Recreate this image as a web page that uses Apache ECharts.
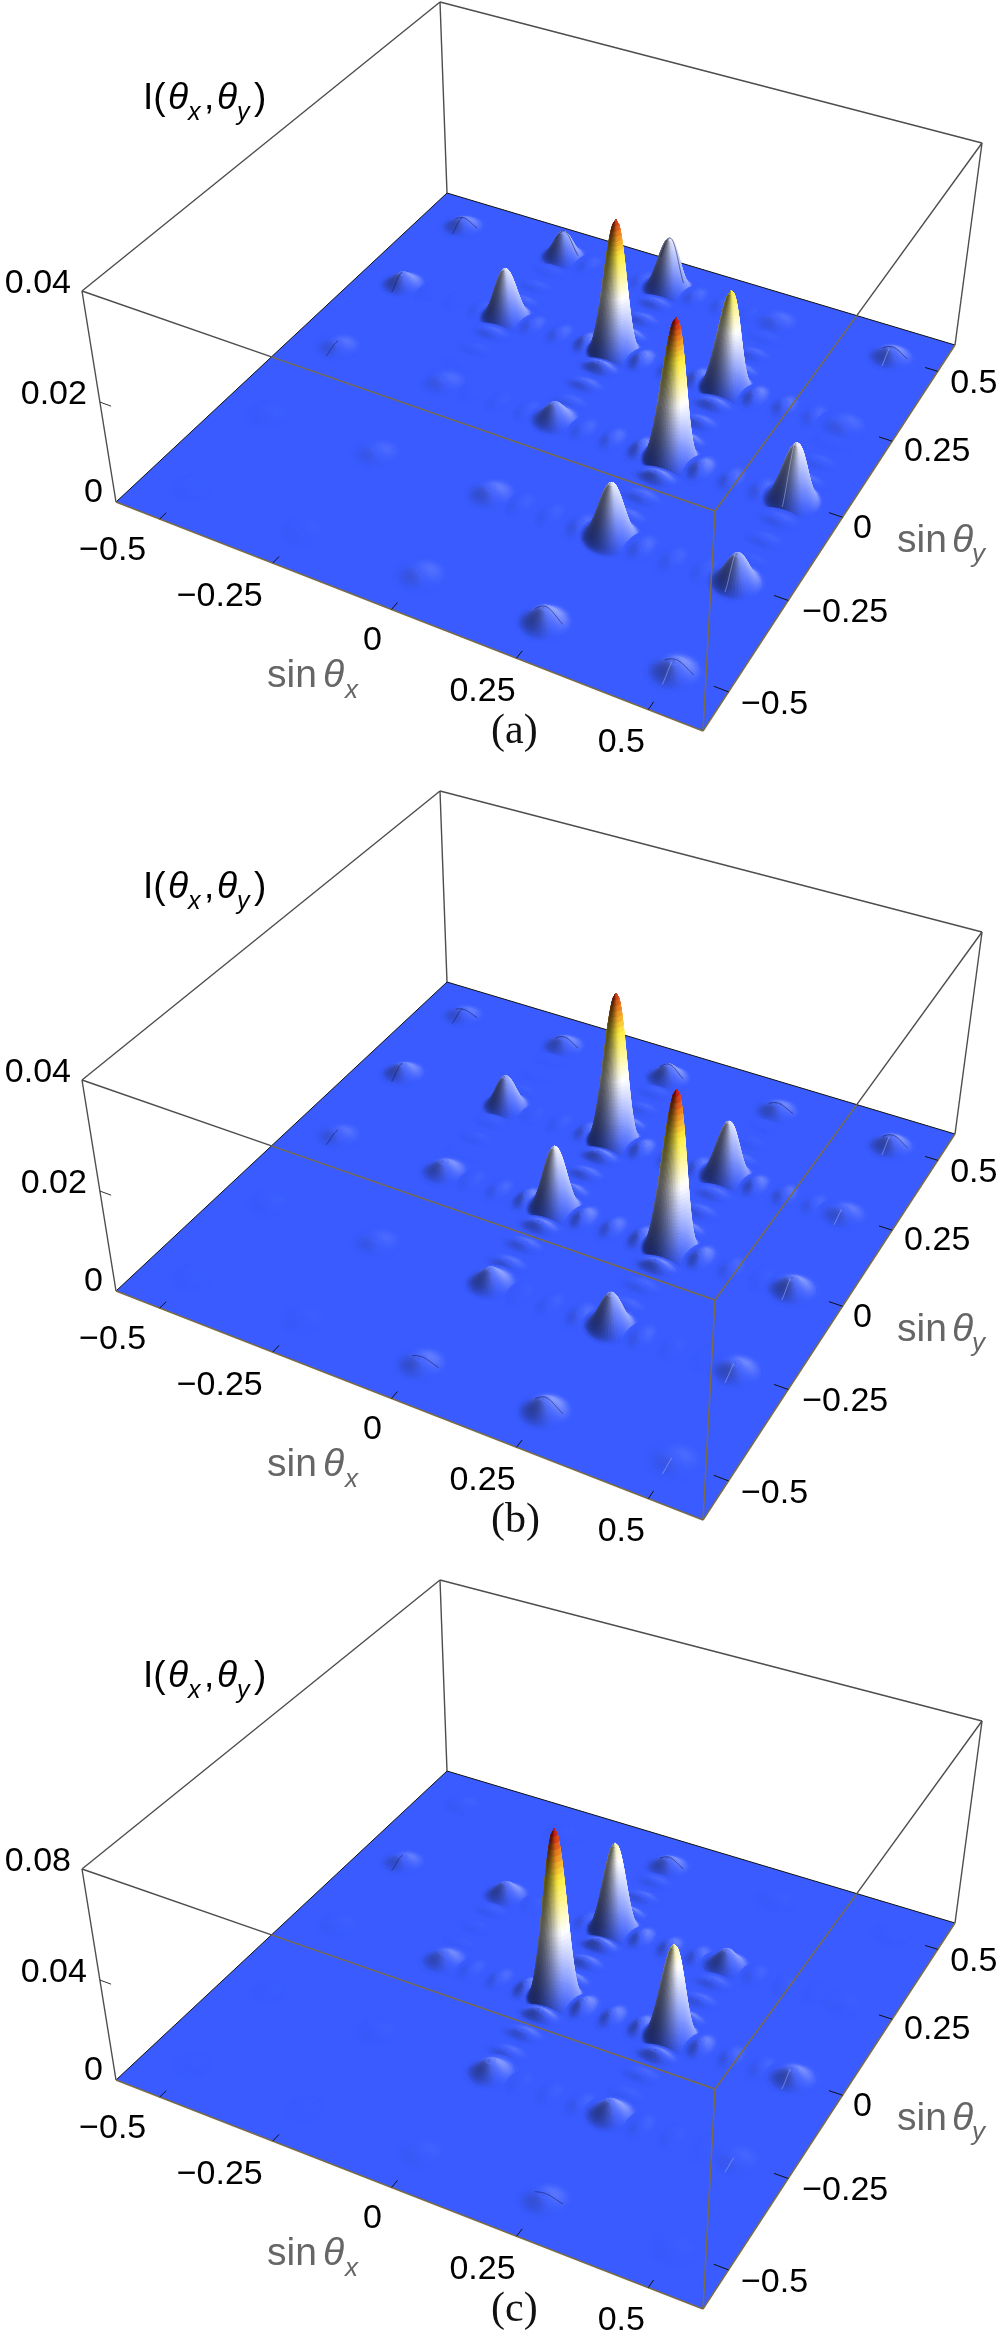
<!DOCTYPE html>
<html>
<head>
<meta charset="utf-8">
<title>I(theta_x, theta_y)</title>
<style>
html, body { margin: 0; background: #fff; }
#main { width: 1000px; height: 2337px; }
</style>
<script src="https://cdn.jsdelivr.net/npm/echarts@6/dist/echarts.min.js"></script>
</head>
<body>
<div id="main"></div>
<script>
// axis values
var axisRange = [-0.6, 0.6];
var sinTicks = [-0.5, -0.25, 0, 0.25, 0.5];
var sinTickLabels = ['−0.5', '−0.25', '0', '0.25', '0.5'];
var zTicksA = [0, 0.02, 0.04];
var zTicksB = [0, 0.02, 0.04];
var zTicksC = [0, 0.04, 0.08];
var zLabelsA = ['0', '0.02', '0.04'];
var zLabelsB = ['0', '0.02', '0.04'];
var zLabelsC = ['0', '0.04', '0.08'];
var zMaxA = 0.04, zMaxB = 0.04, zMaxC = 0.08;
var captions = ['(a)', '(b)', '(c)'];

// peak intensity, rows sinThetaY 0.5 .. -0.5, columns sinThetaX -0.5 .. 0.5
var gridY = [0.5, 0.25, 0, -0.25, -0.5];
var gridX = [-0.5, -0.25, 0, 0.25, 0.5];
var peaksA = [
    [0.0018, 0.0057, 0.0111, 0.0008, 0.0020],
    [0.0024, 0.0105, 0.0270, 0.0200, 0.0007],
    [0.0009, 0.0007, 0.0036, 0.0280, 0.0117],
    [0.0002, 0.0006, 0.0012, 0.0110, 0.0058],
    [0.0001, 0.0002, 0.0008, 0.0029, 0.0021]
];
var peaksB = [
    [0.0012, 0.0019, 0.0029, 0.0016, 0.0022],
    [0.0020, 0.0066, 0.0300, 0.0117, 0.0012],
    [0.0009, 0.0022, 0.0130, 0.0312, 0.0024],
    [0.0002, 0.0006, 0.0030, 0.0068, 0.0016],
    [0.0001, 0.0002, 0.0012, 0.0025, 0.0006]
];
var peaksC = [
    [0.0006, 0.0004, 0.0040, 0.0004, 0.0002],
    [0.0025, 0.0055, 0.0363, 0.0070, 0.0004],
    [0.0005, 0.0035, 0.0667, 0.0375, 0.0040],
    [0.0001, 0.0004, 0.0050, 0.0060, 0.0009],
    [0.0001, 0.0001, 0.0006, 0.0020, 0.0004]
];

// side lobes between two grid peaks: [fixed coordinate, start of the 0.25 gap, three heights]
var lobesXA = [
    [0.25, -0.5, 0.0001, 0.0001, 0.0003], [0.25, -0.25, 0.0006, 0.0006, 0.0014], [0.25, 0, 0.0014, 0.0008, 0.0012], [0.25, 0.25, 0.0012, 0.0008, 0.0005],
    [0, -0.25, 0.0001, 0.0002, 0.0003], [0, 0, 0.0005, 0.0007, 0.0014], [0, 0.25, 0.0014, 0.0007, 0.0006],
    [0.5, -0.25, 0.0004, 0.0003, 0.0005], [0.5, 0, 0.0006, 0.0005, 0.0002],
    [-0.25, 0, 0.0003, 0.0003, 0.0006], [-0.25, 0.25, 0.0006, 0.0004, 0.0003]
];
var lobesYA = [
    [0, 0, 0.0004, 0.0007, 0.0014], [0, 0.25, 0.0014, 0.0007, 0.0007],
    [0.25, 0, 0.0014, 0.0008, 0.0010], [0.25, 0.25, 0.0010, 0.0005, 0.0002], [0.25, -0.25, 0.0006, 0.0006, 0.0014],
    [-0.25, 0.25, 0.0005, 0.0003, 0.0002], [-0.25, 0, 0.0001, 0.0002, 0.0005],
    [0.5, 0, 0.0005, 0.0003, 0.0001], [0.5, -0.25, 0.0002, 0.0003, 0.0004]
];
var lobesXB = [
    [0.25, -0.25, 0.0002, 0.0003, 0.0010], [0.25, 0, 0.0013, 0.0007, 0.0010], [0.25, 0.25, 0.0012, 0.0008, 0.0005],
    [0, -0.25, 0.0003, 0.0005, 0.0014], [0, 0, 0.0014, 0.0010, 0.0014], [0, 0.25, 0.0014, 0.0005, 0.0002],
    [-0.25, 0, 0.0002, 0.0003, 0.0006], [-0.25, 0.25, 0.0005, 0.0002, 0.0001]
];
var lobesYB = [
    [0, 0, 0.0012, 0.0008, 0.0013], [0, 0.25, 0.0013, 0.0004, 0.0003], [0, -0.25, 0.0007, 0.0007, 0.0012],
    [0.25, 0, 0.0014, 0.0006, 0.0006], [0.25, -0.25, 0.0004, 0.0004, 0.0014], [0.25, 0.25, 0.0005, 0.0002, 0.0001],
    [-0.25, 0.25, 0.0002, 0.0001, 0.0001], [-0.25, 0, 0.0001, 0.0002, 0.0002]
];
var lobesXC = [
    [0.25, -0.25, 0.0004, 0.0004, 0.0012], [0.25, 0, 0.0026, 0.0022, 0.0018], [0.25, 0.25, 0.0008, 0.0004, 0.0002],
    [0, -0.25, 0.0008, 0.0012, 0.0030], [0, 0, 0.0034, 0.0026, 0.0030], [0, 0.25, 0.0026, 0.0012, 0.0008],
    [-0.25, 0, 0.0004, 0.0005, 0.0008], [-0.25, 0.25, 0.0007, 0.0004, 0.0002]
];
var lobesYC = [
    [0, 0, 0.0030, 0.0020, 0.0030], [0, 0.25, 0.0026, 0.0012, 0.0008], [0, -0.25, 0.0012, 0.0016, 0.0030],
    [0.25, 0, 0.0026, 0.0012, 0.0012], [0.25, -0.25, 0.0005, 0.0008, 0.0026],
    [-0.25, 0, 0.0003, 0.0003, 0.0005]
];

// thin mesh creases on the low bumps: [x, y, 0 dark along x, 1 dark along y, 2 light along y]
var creasesA = [
    [-0.5, 0.5, 0], [-0.5, 0.5, 1], [-0.5, 0.25, 1], [-0.5, 0, 1], [-0.25, 0.5, 0], [0, 0.5, 0], [0.5, 0.5, 0],
    [0.25, -0.5, 0], [0.5, -0.5, 0], [0.5, -0.5, 2], [0.5, 0, 2], [0.5, -0.25, 2], [0.5, 0.5, 2]
];
var creasesB = [
    [-0.5, 0.5, 0], [-0.5, 0.5, 1], [-0.5, 0.25, 1], [-0.5, 0, 1], [-0.25, 0.5, 0], [0, 0.5, 0], [0.25, 0.5, 0], [0.5, 0.5, 0],
    [0.25, -0.5, 0], [0, -0.5, 0], [0.5, 0.5, 2], [0.5, 0, 2], [0.5, -0.25, 2], [0.5, 0.25, 2], [0.5, -0.5, 2]
];
var creasesC = [
    [-0.5, 0.25, 1], [0, 0.5, 0], [0.25, -0.5, 0], [0.5, 0, 2], [0.5, -0.25, 2]
];

// page layout, the same camera for each of the three panels
var panelTop = [0, 789, 1578];
var floorCorners = [[116, 502], [703, 731], [955, 345], [447, 193]];
var topCorners = [[82, 291], [715, 511], [982, 143], [440, 2]];
var gridW = 1000, gridH = 700;
var xLabelOffset = [[-47, 32], [-53, 33], [-19, 31], [-34, 33], [-27, 33]];
var yLabelOffset = [[46, 13], [57, 12], [20, 11], [45, 10], [36, 12]];
var zLabelOffset = [[-13, -9], [-13, -7], [-11, -7]];

var sans = '"Liberation Sans", Arial, sans-serif';
var floorColor = [57, 91, 255];
var colorStops = [
    [0, 57, 91, 255],
    [0.45, 255, 255, 255],
    [0.74, 255, 238, 60],
    [0.88, 236, 130, 30],
    [1, 205, 20, 20]
];

function squareToQuad(c) {
    var dx1 = c[1][0] - c[2][0], dx2 = c[3][0] - c[2][0], sx = c[0][0] - c[1][0] + c[2][0] - c[3][0];
    var dy1 = c[1][1] - c[2][1], dy2 = c[3][1] - c[2][1], sy = c[0][1] - c[1][1] + c[2][1] - c[3][1];
    var den = dx1 * dy2 - dx2 * dy1;
    var g = (sx * dy2 - dx2 * sy) / den;
    var h = (dx1 * sy - sx * dy1) / den;
    return [c[1][0] - c[0][0] + g * c[1][0], c[3][0] - c[0][0] + h * c[3][0], c[0][0],
            c[1][1] - c[0][1] + g * c[1][1], c[3][1] - c[0][1] + h * c[3][1], c[0][1], g, h];
}
var floorH = squareToQuad(floorCorners);
var topH = squareToQuad(topCorners);

function hom(m, u, v) {
    var w = m[6] * u + m[7] * v + 1;
    return [(m[0] * u + m[1] * v + m[2]) / w, (m[3] * u + m[4] * v + m[5]) / w];
}

// plane position from the axes plus a height fraction -> page pixel
function project(panel, c, t) {
    var u = c[0] / gridW;
    var v = (panelTop[panel] + gridH - c[1]) / gridH;
    var a = hom(floorH, u, v), b = hom(topH, u, v);
    var s = 0.9 * t / (1 - 0.1 * t);
    return [a[0] + (b[0] - a[0]) * s, a[1] + (b[1] - a[1]) * s + panelTop[panel]];
}

function sinc2(q) {
    if (Math.abs(q) < 1e-6) return 1;
    var r = Math.sin(Math.PI * q) / (Math.PI * q);
    return r * r;
}

// ring radii of a bump, closer together where the height changes most
function ringRadii(rings) {
    var out = [0];
    for (var k = 1; k < rings; k++) {
        var target = Math.pow(1 - k / rings, 1.5), lo = 0, hi = 1;
        for (var n = 0; n < 24; n++) {
            var m = (lo + hi) / 2;
            if (sinc2(m) > target) lo = m; else hi = m;
        }
        out.push((lo + hi) / 2);
    }
    out.push(1);
    return out;
}

function heightColor(r, s) {
    var i = 1;
    while (i < colorStops.length - 1 && r > colorStops[i][0]) i++;
    var a = colorStops[i - 1], b = colorStops[i];
    var k = Math.min(1, Math.max(0, (r - a[0]) / (b[0] - a[0])));
    var col = [a[1] + (b[1] - a[1]) * k, a[2] + (b[2] - a[2]) * k, a[3] + (b[3] - a[3]) * k];
    var soft = Math.pow(Math.abs(s), 1.35);
    if (s < 0) {
        var f = 1 - 0.66 * soft;
        col = col.map(function (q) { return q * f; });
    } else {
        var lift = soft * (r > 0.5 ? 0.12 : 0.55);
        col = col.map(function (q) { return q + (255 - q) * lift; });
    }
    return 'rgb(' + Math.round(col[0]) + ',' + Math.round(col[1]) + ',' + Math.round(col[2]) + ')';
}

function bumpSize(kind, ratio) {
    if (kind === 1) return [0.03, 0.05];
    if (kind === 2) return [0.05, 0.03];
    var a = ratio > 0.25 ? 0.057 : 0.052;
    return [a, a];
}

// one bump of the surface, a small ring mesh painted back to front
function renderPeak(panel, zMax, top) {
    return function (params, api) {
        var x = api.value(0), y = api.value(1), h = api.value(2), kind = api.value(3);
        var ratio = h / top;
        var size = bumpSize(kind, ratio), ax = size[0], ay = size[1];
        var rings = kind > 0 ? 9 : (ratio > 0.25 ? 44 : (ratio > 0.08 ? 22 : 12));
        var arms = kind > 0 ? 24 : (ratio > 0.25 ? 56 : 36);
        var pxPerZ = 205 / zMax;
        var radii = ringRadii(rings);
        var pts = [], zs = [];
        for (var k = 0; k <= rings; k++) {
            var rho = radii[k];
            zs.push(h * sinc2(rho));
            pts.push([]);
            for (var a = 0; a < arms; a++) {
                var phi = 2 * Math.PI * a / arms;
                pts[k].push(project(panel, api.coord([x + ax * rho * Math.cos(phi), y + ay * rho * Math.sin(phi)]), zs[k] / zMax));
            }
        }
        var cells = [];
        for (k = 0; k < rings; k++) {
            var zc = (zs[k] + zs[k + 1]) / 2;
            if (zc * pxPerZ < 0.03) continue;
            var dz = (zs[k + 1] - zs[k]) / (radii[k + 1] - radii[k]) * pxPerZ / 430;
            var rm = (radii[k] + radii[k + 1]) / 2;
            for (a = 0; a < arms; a++) {
                var b = (a + 1) % arms;
                var mid = 2 * Math.PI * (a + 0.5) / arms;
                var cx = Math.cos(mid), cy = Math.sin(mid);
                var sx = dz * cx / ax, sy = dz * cy / ay;
                var s = (-0.55 * sx - 0.83 * sy) / Math.sqrt(1 + sx * sx + sy * sy);
                var col = heightColor(zc / top, s);
                cells.push({
                    d: ax * rm * cx - ay * rm * cy,
                    el: {
                        type: 'polygon',
                        shape: { points: [pts[k][a], pts[k + 1][a], pts[k + 1][b], pts[k][b]] },
                        style: { fill: col, stroke: col, lineWidth: 0.6 },
                        silent: true
                    }
                });
            }
        }
        cells.sort(function (p, q) { return p.d - q.d; });
        return { type: 'group', children: cells.map(function (c) { return c.el; }) };
    };
}

function renderCrease(panel, zMax) {
    return function (params, api) {
        var x = api.value(0), y = api.value(1), h = api.value(2), code = api.value(3);
        var from = code === 0 ? -0.4 : -0.75, to = code === 0 ? 0.65 : (code === 1 ? 0.1 : -0.05);
        var nudge = 0.004, pts = [];
        for (var i = 0; i <= 20; i++) {
            var rho = from + (to - from) * i / 20;
            var d = 0.052 * rho;
            var c = code === 0 ? [x + d, y + nudge] : [x - nudge, y + d];
            var r = Math.sqrt(rho * rho + 0.005);
            pts.push(project(panel, api.coord(c), h * sinc2(r) / zMax));
        }
        return {
            type: 'polyline', silent: true,
            shape: { points: pts },
            style: { fill: null, lineWidth: 0.9,
                     stroke: code === 2 ? 'rgba(205,220,255,0.45)' : 'rgba(20,25,70,0.6)' }
        };
    };
}

function buildPeakRows(table, lobesX, lobesY) {
    var rows = [];
    table.forEach(function (row, r) {
        row.forEach(function (h, c) { rows.push([gridX[c], gridY[r], h, 0]); });
    });
    lobesX.forEach(function (l) {
        for (var k = 1; k <= 3; k++) rows.push([l[1] + k * 0.0625, l[0], l[1 + k], 1]);
    });
    lobesY.forEach(function (l) {
        for (var k = 1; k <= 3; k++) rows.push([l[0], l[1] + k * 0.0625, l[1 + k], 2]);
    });
    // far corner of the floor first
    rows.sort(function (a, b) { return (a[0] - a[1]) - (b[0] - b[1]); });
    return rows;
}

function buildCreaseRows(table, creases) {
    return creases.map(function (c) {
        return [c[0], c[1], table[gridY.indexOf(c[1])][gridX.indexOf(c[0])], c[2]];
    });
}

function corner(panel, api, ix, iy, t) {
    return project(panel, api.coord([axisRange[ix], axisRange[iy]]), t);
}

function line(a, b, color, width) {
    return { type: 'line', shape: { x1: a[0], y1: a[1], x2: b[0], y2: b[1] },
             style: { stroke: color, lineWidth: width, fill: null }, silent: true };
}

function hit(a, b, c, d) {
    var den = (b[0] - a[0]) * (d[1] - c[1]) - (b[1] - a[1]) * (d[0] - c[0]);
    var t = ((c[0] - a[0]) * (d[1] - c[1]) - (c[1] - a[1]) * (d[0] - c[0])) / den;
    return [a[0] + (b[0] - a[0]) * t, a[1] + (b[1] - a[1]) * t];
}

function renderFloor(panel) {
    return function (params, api) {
        var L = corner(panel, api, 0, 0, 0), F = corner(panel, api, 1, 0, 0);
        var R = corner(panel, api, 1, 1, 0), B = corner(panel, api, 0, 1, 0);
        var LT = corner(panel, api, 0, 0, 1), RT = corner(panel, api, 1, 1, 1), BT = corner(panel, api, 0, 1, 1);
        var grey = '#4d4d4d';
        return { type: 'group', children: [
            { type: 'polygon', shape: { points: [L, F, R, B] },
              style: { fill: 'rgb(' + floorColor.join(',') + ')' }, silent: true },
            line(L, B, '#111', 1), line(B, R, '#111', 1),
            line(B, BT, grey, 1.4), line(R, RT, grey, 1.4), line(L, LT, grey, 1.4),
            line(LT, BT, grey, 1.4), line(BT, RT, grey, 1.4)
        ] };
    };
}

function renderFront(panel, zTicks, zMax) {
    return function (params, api) {
        var L = corner(panel, api, 0, 0, 0), F = corner(panel, api, 1, 0, 0);
        var R = corner(panel, api, 1, 1, 0), B = corner(panel, api, 0, 1, 0);
        var LT = corner(panel, api, 0, 0, 1), FT = corner(panel, api, 1, 0, 1), RT = corner(panel, api, 1, 1, 1);
        var grey = '#4d4d4d', olive = '#7a6c45';
        var a = hit(LT, FT, L, B), b = hit(RT, FT, B, R);
        var kids = [
            line(L, F, olive, 1.5), line(F, R, olive, 1.5), line(FT, F, olive, 1.5),
            line(LT, a, grey, 1.4), line(a, FT, olive, 1.5),
            line(RT, b, grey, 1.4), line(b, FT, olive, 1.5)
        ];
        sinTicks.forEach(function (v) {
            kids.push(line(project(panel, api.coord([v, axisRange[0]]), 0),
                           project(panel, api.coord([v, axisRange[0] + 0.02]), 0), '#111', 1));
            kids.push(line(project(panel, api.coord([axisRange[1], v]), 0),
                           project(panel, api.coord([axisRange[1] - 0.027, v]), 0), '#111', 1));
        });
        zTicks.slice(1, -1).forEach(function (v) {
            kids.push(line(project(panel, api.coord([axisRange[0], axisRange[0]]), v / zMax),
                           project(panel, api.coord([axisRange[0] + 0.025, axisRange[0]]), v / zMax), '#333', 1));
        });
        return { type: 'group', children: kids };
    };
}

function tickText(str, x, y, align) {
    return { type: 'text', silent: true,
             style: { text: str, x: x, y: y, fill: '#000', align: align, verticalAlign: 'middle',
                      font: '34px ' + sans } };
}

function renderTickLabels(panel, zTicks, zLabels, zMax) {
    return function (params, api) {
        var kids = [];
        sinTicks.forEach(function (v, i) {
            var p = project(panel, api.coord([v, axisRange[0]]), 0);
            kids.push(tickText(sinTickLabels[i], p[0] + xLabelOffset[i][0], p[1] + xLabelOffset[i][1], 'center'));
            var q = project(panel, api.coord([axisRange[1], v]), 0);
            kids.push(tickText(sinTickLabels[i], q[0] + yLabelOffset[i][0], q[1] + yLabelOffset[i][1], 'center'));
        });
        zTicks.forEach(function (v, i) {
            var p = project(panel, api.coord([axisRange[0], axisRange[0]]), v / zMax);
            kids.push(tickText(zLabels[i], p[0] + zLabelOffset[i][0], p[1] + zLabelOffset[i][1], 'right'));
        });
        return { type: 'group', children: kids };
    };
}

function run(str, x, y, size, color, style, family) {
    return { type: 'text', silent: true, z: 50, x: x, y: y,
             style: { text: str, fill: color, font: (style ? style + ' ' : '') + size + 'px ' + (family || sans),
                      align: 'left', verticalAlign: 'middle' } };
}

var graphicEls = [];
var series = [], grids = [], xAxes = [], yAxes = [];
var panels = [
    { table: peaksA, lx: lobesXA, ly: lobesYA, cr: creasesA, zTicks: zTicksA, zLabels: zLabelsA, zMax: zMaxA },
    { table: peaksB, lx: lobesXB, ly: lobesYB, cr: creasesB, zTicks: zTicksB, zLabels: zLabelsB, zMax: zMaxB },
    { table: peaksC, lx: lobesXC, ly: lobesYC, cr: creasesC, zTicks: zTicksC, zLabels: zLabelsC, zMax: zMaxC }
];

panels.forEach(function (p, i) {
    var dy = panelTop[i];
    var top = Math.max.apply(null, p.table.map(function (r) { return Math.max.apply(null, r); }));
    grids.push({ left: 0, top: dy, width: gridW, height: gridH });
    xAxes.push({ type: 'value', gridIndex: i, min: axisRange[0], max: axisRange[1], show: false });
    yAxes.push({ type: 'value', gridIndex: i, min: axisRange[0], max: axisRange[1], show: false });
    var base = { type: 'custom', xAxisIndex: i, yAxisIndex: i, silent: true, clip: false, encode: { x: 0, y: 1 } };
    series.push(Object.assign({}, base, { name: 'floor' + i, z: 1, data: [[0, 0]], renderItem: renderFloor(i) }));
    series.push(Object.assign({}, base, { name: 'surface' + i, z: 2, data: buildPeakRows(p.table, p.lx, p.ly),
                                          renderItem: renderPeak(i, p.zMax, top) }));
    series.push(Object.assign({}, base, { name: 'crease' + i, z: 3, data: buildCreaseRows(p.table, p.cr),
                                          renderItem: renderCrease(i, p.zMax) }));
    series.push(Object.assign({}, base, { name: 'box' + i, z: 4, data: [[0, 0]],
                                          renderItem: renderFront(i, p.zTicks, p.zMax) }));
    series.push(Object.assign({}, base, { name: 'ticks' + i, z: 5, data: [[0, 0]],
                                          renderItem: renderTickLabels(i, p.zTicks, p.zLabels, p.zMax) }));

    // axis names and the panel caption
    var ink = '#000', gray = '#666';
    graphicEls.push(
        run('I(', 143, 99 + dy, 37, ink),
        run('θ', 168, 99 + dy, 37, ink, 'italic'),
        run('x', 188, 113 + dy, 25, ink, 'italic'),
        run(',', 204, 99 + dy, 37, ink),
        run('θ', 217, 99 + dy, 37, ink, 'italic'),
        run('y', 237, 113 + dy, 25, ink, 'italic'),
        run(')', 254, 99 + dy, 37, ink),
        run('sin', 267, 676 + dy, 39, gray),
        run('θ', 323, 676 + dy, 39, gray, 'italic'),
        run('x', 345, 691 + dy, 26, gray, 'italic'),
        run('sin', 897, 541 + dy, 39, gray),
        run('θ', 952, 541 + dy, 39, gray, 'italic'),
        run('y', 972, 555 + dy, 26, gray, 'italic'),
        run(captions[i], 491, 732 + dy, 42, '#111', '', '"Liberation Serif", serif')
    );
});

var chart = echarts.init(document.getElementById('main'), null, { renderer: 'canvas' });
chart.setOption({
    animation: false,
    backgroundColor: '#fff',
    tooltip: { show: false },
    grid: grids,
    xAxis: xAxes,
    yAxis: yAxes,
    series: series,
    graphic: { elements: graphicEls }
});
</script>
</body>
</html>
